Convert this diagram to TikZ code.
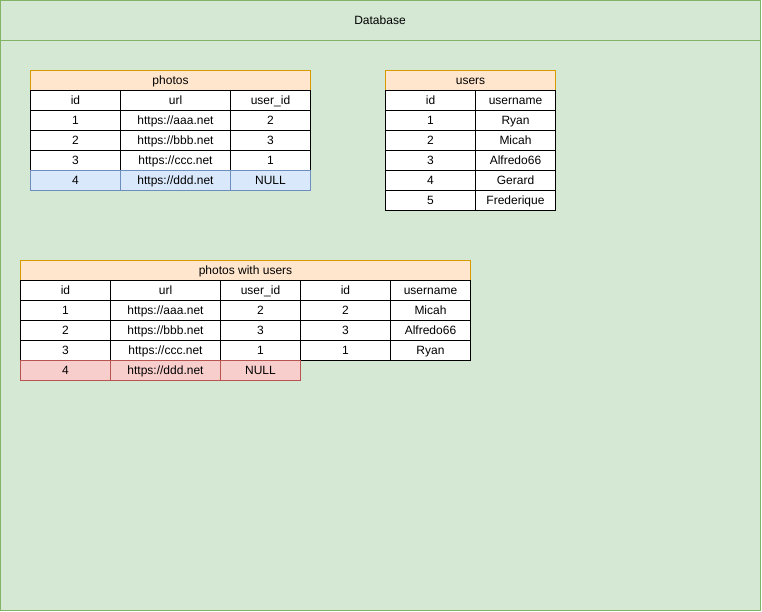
\documentclass[tikz,border=0pt]{standalone}
\usepackage{fontspec}
\setmainfont{Liberation Sans}
\usepackage{xcolor}

\definecolor{dbfill}{HTML}{D5E8D4}
\definecolor{dbline}{HTML}{82B366}
\definecolor{titlefill}{HTML}{FFE6CC}
\definecolor{titleline}{HTML}{D79B00}
\definecolor{nullfill}{HTML}{DAE8FC}
\definecolor{nullline}{HTML}{6C8EBF}
\definecolor{missfill}{HTML}{F8CECC}
\definecolor{missline}{HTML}{B85450}

\begin{document}
\begin{tikzpicture}[x=1pt,y=-1pt,font=\fontsize{12}{14}\selectfont,
    cell/.style={draw=black,fill=white,line width=1pt,minimum height=20pt,inner sep=0pt,text height=9.4pt,text depth=1.6pt},
    tabletitle/.style={cell,draw=titleline,fill=titlefill},
    nullcell/.style={cell,draw=nullline,fill=nullfill},
    misscell/.style={cell,draw=missline,fill=missfill}]
      \useasboundingbox (0,0) rectangle (762,612);

      % Database box
      \draw[dbline,fill=dbfill,line width=1pt] (0.5,0.5) rectangle (760.5,610.5);
      \draw[dbline,line width=1pt] (0.5,40.5) -- (760.5,40.5);
      \node (db) at (380,20.5) {Database};

      % photos
      \node[tabletitle,minimum width=280pt] (photos) at (170.5,80.5) {photos};
      \foreach \a/\b/\c [count=\i from 0] in {id/url/user\_id, 1/{https://aaa.net}/2, 2/{https://bbb.net}/3, 3/{https://ccc.net}/1}
      {
        \node[cell,minimum width=90pt] (photos-\i-1) at (75.5,{100.5+20*\i}) {\a};
        \node[cell,minimum width=110pt] (photos-\i-2) at (175.5,{100.5+20*\i}) {\b};
        \node[cell,minimum width=80pt] (photos-\i-3) at (270.5,{100.5+20*\i}) {\c};
      }
      \node[nullcell,minimum width=90pt] (photos-4-1) at (75.5,180.5) {4};
      \node[nullcell,minimum width=110pt] (photos-4-2) at (175.5,180.5) {https://ddd.net};
      \node[nullcell,minimum width=80pt] (photos-4-3) at (270.5,180.5) {NULL};

      % users
      \node[tabletitle,minimum width=170pt] (users) at (470.5,80.5) {users};
      \foreach \a/\b [count=\i from 0] in {id/username, 1/Ryan, 2/Micah, 3/Alfredo66, 4/Gerard, 5/Frederique}
      {
        \node[cell,minimum width=90pt] (users-\i-1) at (430.5,{100.5+20*\i}) {\a};
        \node[cell,minimum width=80pt] (users-\i-2) at (515.5,{100.5+20*\i}) {\b};
      }

      % photos with users
      \node[tabletitle,minimum width=450pt] (joined) at (245.5,270.5) {photos with users};
      \foreach \a/\b/\c/\d/\e [count=\i from 0] in {id/url/user\_id/id/username, 1/{https://aaa.net}/2/2/Micah, 2/{https://bbb.net}/3/3/Alfredo66, 3/{https://ccc.net}/1/1/Ryan}
      {
        \node[cell,minimum width=90pt] (joined-\i-1) at (65.5,{290.5+20*\i}) {\a};
        \node[cell,minimum width=110pt] (joined-\i-2) at (165.5,{290.5+20*\i}) {\b};
        \node[cell,minimum width=80pt] (joined-\i-3) at (260.5,{290.5+20*\i}) {\c};
        \node[cell,minimum width=90pt] (joined-\i-4) at (345.5,{290.5+20*\i}) {\d};
        \node[cell,minimum width=80pt] (joined-\i-5) at (430.5,{290.5+20*\i}) {\e};
      }
      \node[misscell,minimum width=90pt] (joined-4-1) at (65.5,370.5) {4};
      \node[misscell,minimum width=110pt] (joined-4-2) at (165.5,370.5) {https://ddd.net};
      \node[misscell,minimum width=80pt] (joined-4-3) at (260.5,370.5) {NULL};
\end{tikzpicture}
\end{document}
